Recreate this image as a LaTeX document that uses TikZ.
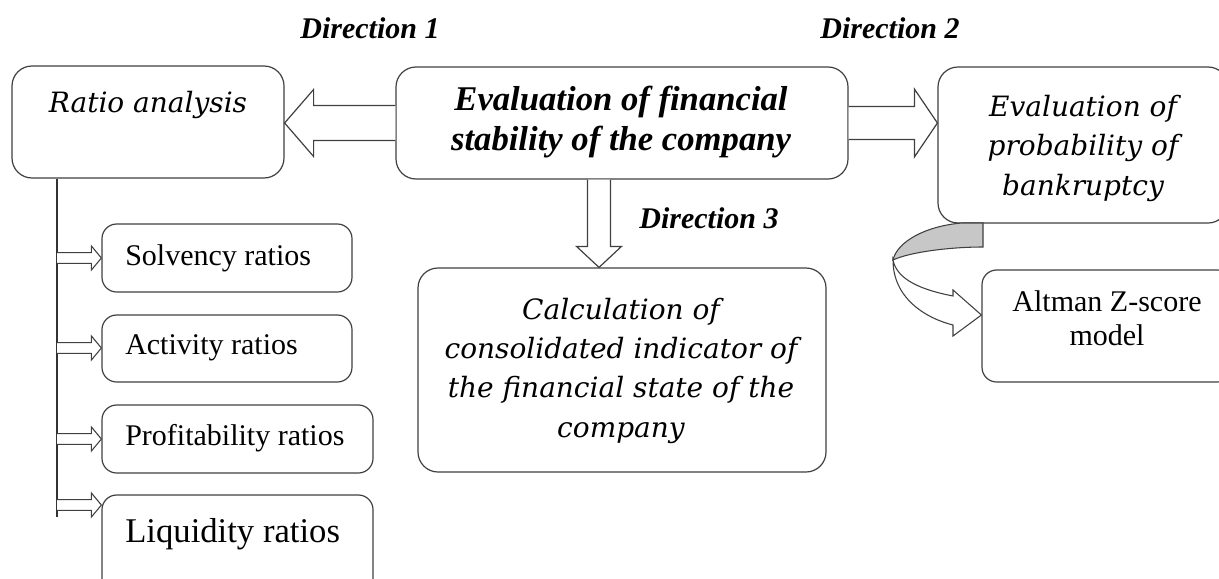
\documentclass[tikz,border=0pt]{standalone}
\usepackage{fontspec}
\setmainfont{Liberation Serif}
\newfontfamily\dvs{DejaVu Serif}
\usetikzlibrary{calc,fit}
\begin{document}
\begin{tikzpicture}[x=0.75pt,y=-0.75pt,
  box/.style={draw=black!75, line width=0.9pt, rounded corners=15pt, fill=white, inner sep=0pt},
  sbox/.style={box, rounded corners=11pt},
  barrow/.style={draw=black!75, line width=0.9pt, fill=white, line join=miter},
  rom/.style={font=\fontsize{22.5}{25}\selectfont},
  liq/.style={font=\fontsize{26}{30}\selectfont},
  itl/.style={font=\dvs\itshape\fontsize{21}{29.3}\selectfont, align=center, anchor=base, inner sep=0pt},
  bit/.style={font=\bfseries\itshape\fontsize{26}{30}\selectfont, align=center, anchor=base, inner sep=0pt},
  dir/.style={font=\bfseries\itshape\fontsize{22.5}{26}\selectfont, anchor=base, inner sep=0pt},
  lbl/.style={inner sep=0pt, anchor=base west}]
\useasboundingbox (0,0) rectangle (1219,578);
\clip (0,0) rectangle (1219,578);

% boxes
\node[box, fit={(12,66)(284,178)}] (ratio) {};
\node[box, fit={(396,67)(848,179)}] (eval) {};
\node[box, fit={(938,67)(1228,223)}] (prob) {};
\node[box, fit={(418,268)(826,472)}] (consol) {};
\node[sbox, fit={(982,270)(1232,382)}] (altman) {};
\node[sbox, fit={(102,224)(352,292)}] (solv) {};
\node[sbox, fit={(102,315)(352,382)}] (act) {};
\node[sbox, fit={(102,405)(373,473)}] (prof) {};
\node[sbox, fit={(102,495)(373,600)}] (liqb) {};

% texts (base anchor = baseline of the last line)
\node[itl] (ratioT) at (148,112) {Ratio analysis};
\node[bit] (evalT) at (621,150) {Evaluation of financial\\stability of the company};
\node[itl] (probT) at (1083,195) {Evaluation of\\probability of\\bankruptcy};
\node[itl] (consolT) at (621,437) {Calculation of\\consolidated indicator of\\the financial state of the\\company};
\node[align=center, anchor=base, inner sep=0pt, font=\fontsize{22.5}{25}\selectfont] (altmanT) at (1107,345) {Altman Z-score\\model};
\node[lbl, rom] (solvT) at (125,265) {Solvency ratios};
\node[lbl, rom] (actT) at (125,354) {Activity ratios};
\node[lbl, rom] (profT) at (125,445) {Profitability ratios};
\node[lbl, liq] (liqT) at (125,542) {Liquidity ratios};

% direction labels
\node[dir] (d1) at (370,38) {Direction 1};
\node[dir] (d2) at (890,38) {Direction 2};
\node[dir] (d3) at (709,228) {Direction 3};

% big block arrows
\coordinate (t1) at (ratio.east |- eval.west);
\draw[barrow] ($(eval.west)+(0,-17.5)$) -- ($(t1)+(29,-17.5)$) -- ($(t1)+(29,-33.5)$) -- (t1)
  -- ($(t1)+(29,33.5)$) -- ($(t1)+(29,17.5)$) -- ($(eval.west)+(0,17.5)$);
\coordinate (t2) at (prob.west |- eval.east);
\draw[barrow] ($(eval.east)+(0,-16.5)$) -- ($(t2)+(-23,-16.5)$) -- ($(t2)+(-23,-34)$) -- (t2)
  -- ($(t2)+(-23,34)$) -- ($(t2)+(-23,16.5)$) -- ($(eval.east)+(0,16.5)$);
\coordinate (b3) at ($(eval.south)+(-23,0)$);
\coordinate (t3) at (b3 |- consol.north);
\draw[barrow] ($(b3)+(-11.5,0)$) -- ($(t3)+(-11.5,-21)$) -- ($(t3)+(-22.5,-21)$) -- (t3)
  -- ($(t3)+(22.5,-21)$) -- ($(t3)+(11.5,-21)$) -- ($(b3)+(11.5,0)$);

% trunk line and small arrows
\coordinate (vend) at (57,517);
\draw[draw=black!80, line width=0.9pt] (ratio.south -| vend) -- (vend);
\foreach \b/\yy in {solv/258, act/348, prof/439, liqb/505} {
  \coordinate (tip) at (\b.west |- 0,\yy);
  \coordinate (bs) at (vend |- 0,\yy);
  \draw[barrow, line width=0.8pt] ($(bs)+(0,-5.3)$) -- ($(tip)+(-10,-5.3)$) -- ($(tip)+(-10,-12)$) -- (tip)
    -- ($(tip)+(-10,12)$) -- ($(tip)+(-10,5.3)$) -- ($(bs)+(0,5.3)$);
}

% curved arrow from prob to altman
\draw[draw=black!75, line width=0.8pt, fill=black!22]
  (962,223) .. controls (925,226) and (897,242) .. (893,260)
  .. controls (910,252) and (950,247) .. (983,247) -- (983,223) -- cycle;
\draw[draw=black!75, line width=0.8pt, fill=white, line join=miter]
  (893,260) .. controls (893,298) and (925,318) .. (953,325) -- (953,336) -- (altman.west |- 0,315)
  -- (953,290) -- (953,296) .. controls (922,290) and (897,280) .. (893,260) -- cycle;
\end{tikzpicture}
\end{document}
